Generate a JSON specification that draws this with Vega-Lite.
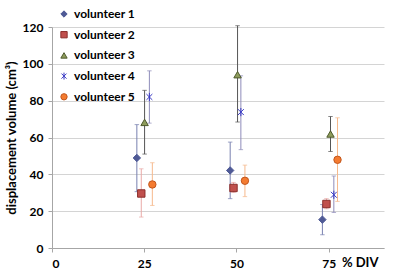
{
  "$schema": "https://vega.github.io/schema/vega-lite/v6.json",
  "autosize": "none",
  "width": 332,
  "height": 221,
  "padding": {"left": 52, "top": 27, "right": 16, "bottom": 27},
  "background": "white",
  "config": {
    "font": "Lato",
    "view": {"stroke": null},
    "axis": {"labelFont": "Lato", "labelFontWeight": "bold", "labelFontSize": 12, "labelColor": "#000", "titleFont": "Lato", "titleFontWeight": "bold", "titleColor": "#000", "domainColor": "#a6a6a6", "tickColor": "#a6a6a6", "tickSize": 4},
    "legend": {"orient": "none", "legendX": 6, "legendY": -19, "padding": 0, "rowPadding": 8.7, "labelFont": "Lato", "labelFontWeight": "bold", "labelFontSize": 12, "labelColor": "#000", "labelOffset": 4, "symbolSize": 40, "symbolStrokeWidth": 1}
  },
  "data": {"values": [
    {"v": "volunteer 1", "x": 23.0, "y": 48.9, "lo": 30.6, "hi": 67.0},
    {"v": "volunteer 1", "x": 48.3, "y": 42.1, "lo": 26.8, "hi": 57.5},
    {"v": "volunteer 1", "x": 73.3, "y": 15.4, "lo": 7.2, "hi": 23.6},
    {"v": "volunteer 2", "x": 24.2, "y": 29.6, "lo": 16.8, "hi": 43.0},
    {"v": "volunteer 2", "x": 49.2, "y": 32.6, "lo": 30.2, "hi": 35.6},
    {"v": "volunteer 2", "x": 74.4, "y": 23.9, "lo": 21.3, "hi": 26.8},
    {"v": "volunteer 3", "x": 25.1, "y": 68.2, "lo": 51.0, "hi": 85.6},
    {"v": "volunteer 3", "x": 50.3, "y": 94.1, "lo": 68.4, "hi": 120.7},
    {"v": "volunteer 3", "x": 75.5, "y": 61.9, "lo": 52.4, "hi": 71.4},
    {"v": "volunteer 4", "x": 26.4, "y": 82.0, "lo": 67.8, "hi": 96.2},
    {"v": "volunteer 4", "x": 51.2, "y": 73.8, "lo": 53.4, "hi": 93.5},
    {"v": "volunteer 4", "x": 76.4, "y": 28.9, "lo": 19.3, "hi": 39.1},
    {"v": "volunteer 5", "x": 27.2, "y": 34.5, "lo": 23.1, "hi": 46.3},
    {"v": "volunteer 5", "x": 52.3, "y": 36.5, "lo": 27.9, "hi": 45.0},
    {"v": "volunteer 5", "x": 77.4, "y": 47.9, "lo": 25.3, "hi": 70.7}
  ]},
  "encoding": {
    "x": {"field": "x", "type": "quantitative", "scale": {"domain": [0, 90], "nice": false},
      "axis": {"values": [0, 25, 50, 75], "grid": false, "title": "% DIV", "titleFontSize": 13, "titleX": 326, "titleY": 14, "titleAlign": "right", "titleBaseline": "middle", "labelPadding": 6}},
    "y": {"field": "y", "type": "quantitative", "scale": {"domain": [0, 120], "nice": false},
      "axis": {"values": [0, 20, 40, 60, 80, 100, 120], "grid": true, "gridColor": "#d4d4d4", "title": "displacement volume (cm³)", "titleFontSize": 13, "titlePadding": 4, "labelPadding": 5}}
  },
  "layer": [
    {
      "mark": {"type": "rule", "strokeWidth": 1},
      "encoding": {
        "y": {"field": "lo", "type": "quantitative"},
        "y2": {"field": "hi"},
        "color": {"field": "v", "type": "nominal", "legend": null, "scale": {"range": ["#7880b0", "#e9a9a7", "#555555", "#8f8cba", "#f6b98c"]}}
      }
    },
    {
      "mark": {"type": "point", "shape": "M-1,0L1,0", "size": 20, "strokeWidth": 1, "filled": false},
      "encoding": {
        "y": {"field": "lo", "type": "quantitative"},
        "color": {"field": "v", "type": "nominal", "legend": null}
      }
    },
    {
      "mark": {"type": "point", "shape": "M-1,0L1,0", "size": 20, "strokeWidth": 1, "filled": false},
      "encoding": {
        "y": {"field": "hi", "type": "quantitative"},
        "color": {"field": "v", "type": "nominal", "legend": null}
      }
    },
    {
      "mark": {"type": "point", "filled": true, "size": 55, "opacity": 1, "strokeWidth": 1},
      "encoding": {
        "shape": {"field": "v", "type": "nominal", "title": null,
          "scale": {"range": ["diamond", "square", "triangle-up", "M-0.8,-0.8L0.8,0.8M-0.8,0.8L0.8,-0.8M0,-1.1L0,1.1", "circle"]}},
        "fill": {"field": "v", "type": "nominal", "title": null,
          "scale": {"range": ["#4f5a96", "#c0504d", "#8e9c5c", "#3b3bc4", "#f47b30"]}},
        "stroke": {"field": "v", "type": "nominal", "title": null,
          "scale": {"range": ["#4f5a96", "#8c2f2c", "#4e5a2c", "#3b3bc4", "#c2561c"]}}
      }
    }
  ]
}
